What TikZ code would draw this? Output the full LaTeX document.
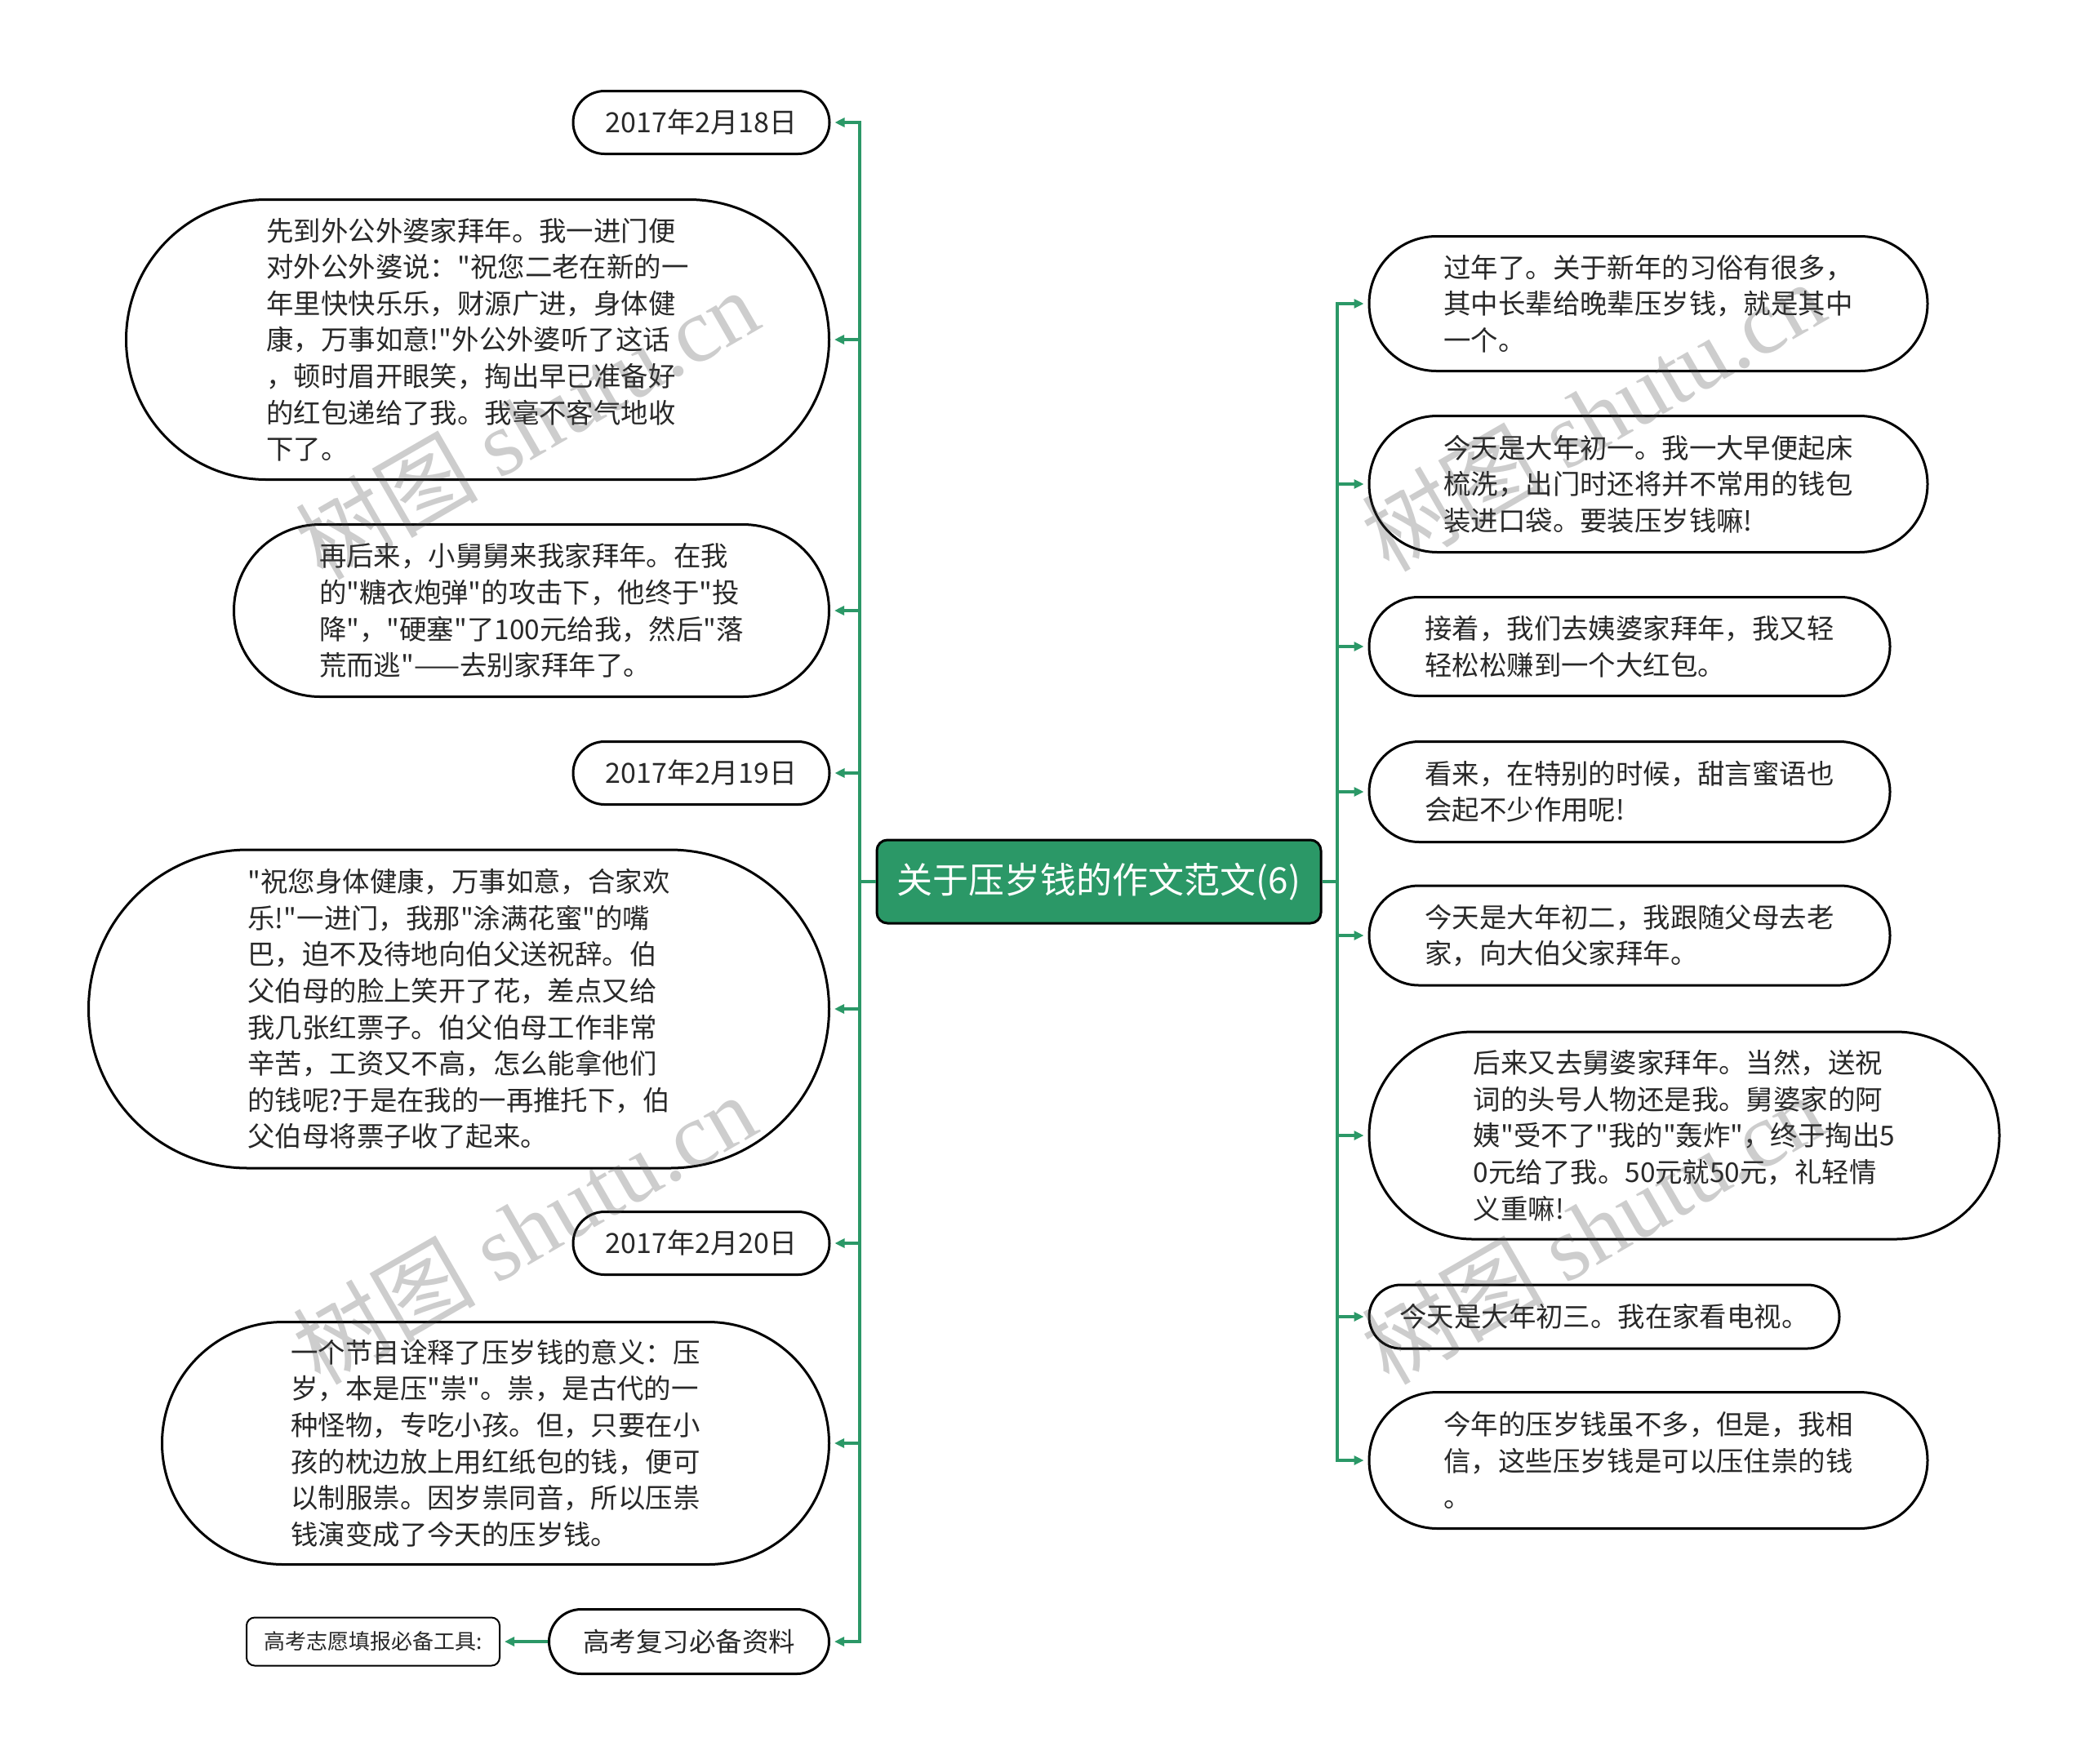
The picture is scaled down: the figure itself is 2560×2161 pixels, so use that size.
\documentclass[tikz,border=0pt]{standalone}
\usepackage{fontspec}
\setmainfont{Noto Sans CJK SC}[Ligatures=TeXOff]
\newfontfamily\wmserif{Liberation Serif}
\usetikzlibrary{shapes.misc,arrows.meta}

\definecolor{branchgreen}{RGB}{43,152,103}
\definecolor{inktext}{RGB}{40,40,40}

\tikzset{
  leaf/.style={rounded rectangle, draw=black, line width=3pt, fill=white,
    text=inktext, inner sep=0pt, align=left,
    font=\fontsize{33.4}{44.6}\selectfont},
  datebox/.style={leaf, font=\fontsize{34}{40}\selectfont},
  link/.style={draw=branchgreen, line width=3.4pt,
    -{Triangle[length=12pt,width=11pt]}, shorten >=5pt},
  wmark/.style={text=black!70, text opacity=0.28, rotate=30, inner sep=0pt,
    font=\fontsize{112}{112}\selectfont}
}

\begin{document}
\begin{tikzpicture}[x=1pt,y=-1pt]
\useasboundingbox (0,0) rectangle (2560,2161);

\node[draw=black, line width=3pt, fill=branchgreen, rounded corners=13pt,
  text=white, minimum width=544, minimum height=102,
  font=\fontsize{44}{50}\selectfont] (root) at (1346,1080) {关于压岁钱的作文范文(6)};

% left side
\node[datebox, minimum width=314, minimum height=77] (l1) at (859,150) {2017年2月18日};
\node[leaf, minimum width=861, minimum height=343] (l2) at (585,416)
  {先到外公外婆家拜年。我一进门便\\对外公外婆说："祝您二老在新的一\\年里快快乐乐，财源广进，身体健\\康，万事如意!"外公外婆听了这话\\，顿时眉开眼笑，掏出早已准备好\\的红包递给了我。我毫不客气地收\\下了。};
\node[leaf, minimum width=729, minimum height=211] (l3) at (651,748)
  {再后来，小舅舅来我家拜年。在我\\的"糖衣炮弹"的攻击下，他终于"投\\降"，"硬塞"了100元给我，然后"落\\荒而逃"——去别家拜年了。};
\node[datebox, minimum width=314, minimum height=77] (l4) at (859,947) {2017年2月19日};
\node[leaf, minimum width=907, minimum height=390] (l5) at (562,1236)
  {"祝您身体健康，万事如意，合家欢\\乐!"一进门，我那"涂满花蜜"的嘴\\巴，迫不及待地向伯父送祝辞。伯\\父伯母的脸上笑开了花，差点又给\\我几张红票子。伯父伯母工作非常\\辛苦，工资又不高，怎么能拿他们\\的钱呢?于是在我的一再推托下，伯\\父伯母将票子收了起来。};
\node[datebox, minimum width=314, minimum height=77] (l6) at (859,1523) {2017年2月20日};
\node[leaf, minimum width=817, minimum height=297] (l7) at (607,1768)
  {一个节目诠释了压岁钱的意义：压\\岁，本是压"祟"。祟，是古代的一\\种怪物，专吃小孩。但，只要在小\\孩的枕边放上用红纸包的钱，便可\\以制服祟。因岁祟同音，所以压祟\\钱演变成了今天的压岁钱。};
\node[datebox, minimum width=343, minimum height=79,
  font=\fontsize{32.5}{40}\selectfont] (l8) at (844,2011) {高考复习必备资料};
\node[draw=black, line width=2pt, rounded corners=10pt, text=inktext,
  minimum width=310, minimum height=59,
  font=\fontsize{26}{30}\selectfont] (tool) at (457,2011) {高考志愿填报必备工具:};

% right side
\node[leaf, minimum width=684, minimum height=165] (r1) at (2019,372)
  {过年了。关于新年的习俗有很多，\\其中长辈给晚辈压岁钱，就是其中\\一个。};
\node[leaf, minimum width=684, minimum height=167] (r2) at (2019,593)
  {今天是大年初一。我一大早便起床\\梳洗，出门时还将并不常用的钱包\\装进口袋。要装压岁钱嘛!};
\node[leaf, minimum width=638, minimum height=121] (r3) at (1996,792)
  {接着，我们去姨婆家拜年，我又轻\\轻松松赚到一个大红包。};
\node[leaf, minimum width=638, minimum height=123] (r4) at (1996,970)
  {看来，在特别的时候，甜言蜜语也\\会起不少作用呢!};
\node[leaf, minimum width=638, minimum height=122] (r5) at (1996,1146)
  {今天是大年初二，我跟随父母去老\\家，向大伯父家拜年。};
\node[leaf, minimum width=772, minimum height=254] (r6) at (2063,1391)
  {后来又去舅婆家拜年。当然，送祝\\词的头号人物还是我。舅婆家的阿\\姨"受不了"我的"轰炸"，终于掏出5\\0元给了我。50元就50元，礼轻情\\义重嘛!};
\node[leaf, minimum width=576, minimum height=78] (r7) at (1965,1613)
  {今天是大年初三。我在家看电视。};
\node[leaf, minimum width=684, minimum height=167] (r8) at (2019,1789)
  {今年的压岁钱虽不多，但是，我相\\信，这些压岁钱是可以压住祟的钱\\。};

\coordinate (ltrunk) at (1053,1080);
\coordinate (rtrunk) at (1638,1080);

\foreach \i in {1,...,8}
  \draw[link] (root.west) -- (ltrunk) |- (l\i.east);
\foreach \i in {1,...,8}
  \draw[link] (root.east) -- (rtrunk) |- (r\i.west);
\draw[link] (l8.west) -- (tool.east);

% watermark
\node[wmark] (wm1) at (645,519) {树图 {\wmserif shutu.cn}};
\node[wmark] (wm2) at (1951,509) {树图 {\wmserif shutu.cn}};
\node[wmark] (wm3) at (642,1505) {树图 {\wmserif shutu.cn}};
\node[wmark] (wm4) at (1951,1505) {树图 {\wmserif shutu.cn}};
\end{tikzpicture}
\end{document}
